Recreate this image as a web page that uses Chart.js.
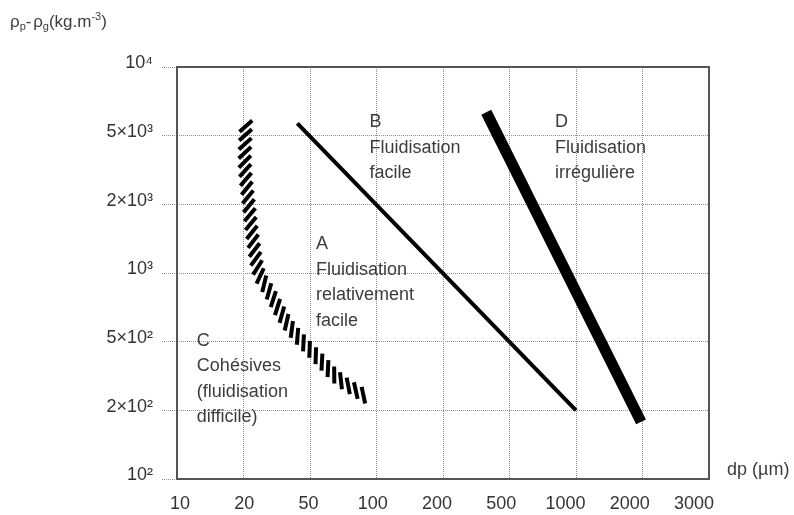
<!DOCTYPE html>
<html><head><meta charset="utf-8">
<script src="https://cdn.jsdelivr.net/npm/chart.js@4/dist/chart.umd.min.js"></script>
<style>html,body{margin:0;padding:0;background:#fff}#wrap{width:794px;height:515px;position:relative}</style>
</head><body><div id="wrap"><canvas id="c" width="794" height="515"></canvas></div>
<script>
// ---- axis ticks (equally spaced on the original figure) ----
const xTickValues = [10, 20, 50, 100, 200, 500, 1000, 2000, 3000];
const xTickLabels = ['10', '20', '50', '100', '200', '500', '1000', '2000', '3000'];
const yTickValues = [100, 200, 500, 1000, 2000, 5000, 10000];
const yTickLabels = ['10²', '2×10²', '5×10²', '10³', '2×10³', '5×10³', '10⁴'];

// ---- boundaries (dp in µm, density difference in kg/m3) ----
const boundaryAB_dp  = [42, 1000];
const boundaryAB_rho = [5660, 200];
const boundaryBD_dp  = [363, 1970];
const boundaryBD_rho = [6330, 178];
const boundaryCA_dp  = [20.7, 20.4, 21.6, 22.8, 24.8, 28.8, 37.9, 55.5, 68.3, 88];
const boundaryCA_rho = [5680, 3380, 1947, 1395, 1000, 817, 580, 391, 300, 243];

// ---- zone labels ----
const zoneLines = [
  ['B', 'Fluidisation', 'facile'],
  ['D', 'Fluidisation', 'irrégulière'],
  ['A', 'Fluidisation', 'relativement', 'facile'],
  ['C', 'Cohésives', '(fluidisation', 'difficile)']
];
const zoneDp  = [93, 803, 53.2, 12.3];
const zoneRho = [5450, 5450, 1274, 472];

const FONT = "'Liberation Sans', Arial, sans-serif";
const TXT = '#3c3c3c';

// piecewise-log position on the equally spaced tick axis
function pos(v, ticks) {
  let i = 0;
  while (i < ticks.length - 2 && v > ticks[i + 1]) i++;
  return i + Math.log(v / ticks[i]) / Math.log(ticks[i + 1] / ticks[i]);
}
const toPts = (xs, ys) => xs.map((x, i) => ({ x: pos(x, xTickValues), y: pos(ys[i], yTickValues) }));

function catmull(P, n) {
  const out = [];
  for (let i = 0; i < P.length - 1; i++) {
    const p0 = P[Math.max(i - 1, 0)], p1 = P[i], p2 = P[i + 1], p3 = P[Math.min(i + 2, P.length - 1)];
    for (let k = 0; k < n; k++) {
      const t = k / n, t2 = t * t, t3 = t2 * t;
      const f = (a, b, c, d) => 0.5 * ((2 * b) + (-a + c) * t + (2 * a - 5 * b + 4 * c - d) * t2 + (-a + 3 * b - 3 * c + d) * t3);
      out.push({ x: f(p0.x, p1.x, p2.x, p3.x), y: f(p0.y, p1.y, p2.y, p3.y) });
    }
  }
  out.push(P[P.length - 1]);
  return out;
}

const decor = {
  id: 'decor',
  afterDatasetsDraw(chart) {
    const ctx = chart.ctx, xs = chart.scales.x, ys = chart.scales.y, a = chart.chartArea;
    ctx.save();
    // hatched C/A boundary
    const meta = chart.getDatasetMeta(2);
    const P = meta.data.map(p => ({ x: p.x, y: p.y }));
    const S = catmull(P, 30);
    const cum = [0];
    for (let i = 1; i < S.length; i++) cum.push(cum[i - 1] + Math.hypot(S[i].x - S[i - 1].x, S[i].y - S[i - 1].y));
    const total = cum[cum.length - 1];
    ctx.strokeStyle = '#000'; ctx.lineWidth = 4; ctx.lineCap = 'butt';
    const L = 17, off = 46 * Math.PI / 180;
    const start = 3, n = Math.round((total - start - 1) / 8.8), step = (total - start - 1) / n;
    let j = 1;
    for (let k = 0; k <= n; k++) {
      const s = start + k * step;
      while (j < S.length - 1 && cum[j] < s) j++;
      const s0 = cum[j - 1], s1 = cum[j];
      const t = s1 > s0 ? Math.min(1, (s - s0) / (s1 - s0)) : 0;
      const cx = S[j - 1].x + (S[j].x - S[j - 1].x) * t;
      const cy = S[j - 1].y + (S[j].y - S[j - 1].y) * t;
      const th = Math.atan2(S[j].y - S[j - 1].y, S[j].x - S[j - 1].x) + off;
      const dx = Math.cos(th) * L / 2, dy = Math.sin(th) * L / 2;
      ctx.beginPath(); ctx.moveTo(cx - dx, cy - dy); ctx.lineTo(cx + dx, cy + dy); ctx.stroke();
    }
    // frame
    ctx.strokeStyle = '#555'; ctx.lineWidth = 2;
    ctx.strokeRect(a.left, a.top, a.right - a.left, a.bottom - a.top);
    // zone texts
    ctx.fillStyle = TXT; ctx.font = '18px ' + FONT; ctx.textAlign = 'left'; ctx.textBaseline = 'alphabetic';
    zoneLines.forEach((lines, i) => {
      const px = xs.getPixelForValue(pos(zoneDp[i], xTickValues));
      const py = ys.getPixelForValue(pos(zoneRho[i], yTickValues));
      lines.forEach((l, k) => ctx.fillText(l, px, py + k * 25.5));
    });
    // x axis title
    ctx.font = '18px ' + FONT;
    ctx.fillText('dp (µm)', a.right + 18, a.bottom - 4);
    // y axis title with sub/superscripts
    const segs = [['ρ', 0], ['p', 1], ['- ', 0], ['ρ', 0], ['g', 1], ['(kg.m', 0], ['-3', 2], [')', 0]];
    let x = 10; const base = 27;
    segs.forEach(([t, m]) => {
      ctx.font = (m ? '11px ' : '17px ') + FONT;
      const yy = m === 1 ? base + 3 : m === 2 ? base - 7 : base;
      ctx.fillText(t, x, yy);
      x += ctx.measureText(t).width - (t === '- ' ? 3 : 0);
    });
    ctx.restore();
  }
};

const gridColor = '#8f8f8f';
new Chart(document.getElementById('c'), {
  type: 'scatter',
  data: {
    datasets: [
      { label: 'A/B', data: toPts(boundaryAB_dp, boundaryAB_rho), showLine: true, borderColor: '#000', borderWidth: 4, borderCapStyle: 'butt', pointRadius: 0 },
      { label: 'B/D', data: toPts(boundaryBD_dp, boundaryBD_rho), showLine: true, borderColor: '#000', borderWidth: 11, borderCapStyle: 'butt', pointRadius: 0 },
      { label: 'C/A', data: toPts(boundaryCA_dp, boundaryCA_rho), showLine: false, pointRadius: 0 }
    ]
  },
  options: {
    responsive: false, animation: false,
    layout: { padding: { left: 0, top: 67, right: 85, bottom: 0 } },
    plugins: { legend: { display: false }, tooltip: { enabled: false } },
    scales: {
      x: {
        type: 'linear', min: 0, max: 8, position: 'bottom',
        afterBuildTicks: s => { s.ticks = xTickValues.map((v, i) => ({ value: i })); },
        ticks: { display: false },
        grid: { color: gridColor, lineWidth: 1, drawTicks: false },
        border: { display: false, dash: [1, 1] },
        afterFit: s => { s.height = 0; }
      },
      xl: {
        type: 'linear', axis: 'x', min: -0.0467, max: 8.2335, position: 'bottom',
        afterBuildTicks: s => { s.ticks = xTickValues.map((v, i) => ({ value: i })); },
        ticks: { callback: v => xTickLabels[v], font: { family: FONT, size: 18 }, color: '#333', padding: 14, maxRotation: 0, autoSkip: false },
        grid: { display: false, drawTicks: false },
        border: { display: false },
        afterFit: s => { s.height = 36; }
      },
      y: {
        type: 'linear', min: 0, max: 6,
        afterBuildTicks: s => { s.ticks = yTickValues.map((v, i) => ({ value: i })); },
        ticks: { callback: v => yTickLabels[v], font: { family: FONT, size: 18 }, color: '#333', padding: 9, labelOffset: -3.5, autoSkip: false },
        grid: { color: gridColor, lineWidth: 1, drawTicks: true, tickLength: 15, tickColor: gridColor, tickBorderDash: [1, 1] },
        border: { display: false, dash: [1, 1] },
        afterFit: s => { s.width = 177; }
      }
    }
  },
  plugins: [decor]
});
</script></body></html>
